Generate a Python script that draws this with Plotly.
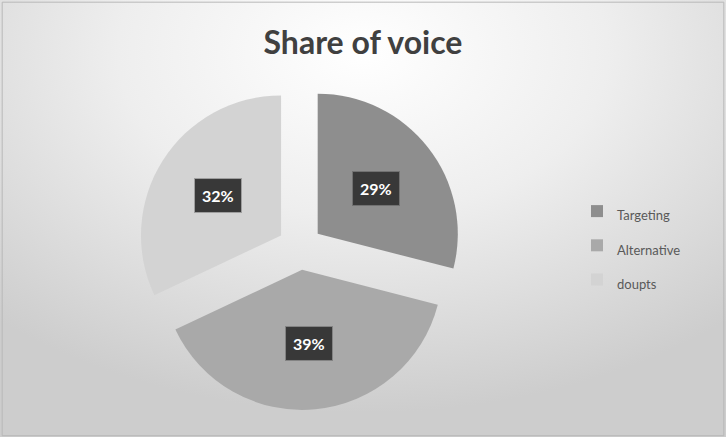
import base64
import math
import plotly.graph_objects as go

# Share-of-voice data
labels = ["Targeting", "Alternative", "doupts"]
values = [29, 39, 32]
colors = ["#8e8e8e", "#a9a9a9", "#d3d3d3"]

W, H = 726, 437
PULL = 0.16

# Pie domain in pixels (square), converted to paper fractions
cx_px, cy_px = 300, 247.5          # centre, measured from top-left
half = 162.5
dom_x = [(cx_px - half) / W, (cx_px + half) / W]
dom_y = [(H - cy_px - half) / H, (H - cy_px + half) / H]

fig = go.Figure()
fig.add_trace(go.Pie(
    labels=[f"<span style='font-size:13px'>{l}</span>" for l in labels],
    values=values,
    sort=False,
    direction="clockwise",
    rotation=0,
    pull=[PULL] * len(values),
    marker=dict(colors=colors, line=dict(width=0)),
    textinfo="none",
    hoverinfo="label+percent",
    domain=dict(x=dom_x, y=dom_y),
))

# Percentage labels in dark boxes, placed at each slice's mid-angle
r = half / (1 + PULL)
total = sum(values)
acc = 0
for v in values:
    mid = (acc + v / 2) / total * 2 * math.pi
    acc += v
    dist = r * (PULL + 0.53)
    x_px = cx_px + dist * math.sin(mid)
    y_px = cy_px - dist * math.cos(mid)
    fig.add_annotation(
        x=x_px / W, y=1 - y_px / H, xref="paper", yref="paper",
        xanchor="center", yanchor="middle",
        text=f"<b>{round(v / total * 100)}%</b>",
        showarrow=False,
        font=dict(family="Lato, sans-serif", size=16, color="white"),
        bgcolor="#383838", borderpad=6,
        bordercolor="rgba(60,60,60,0.35)", borderwidth=2,
    )

# Soft radial background
svg = f"""<svg xmlns='http://www.w3.org/2000/svg' width='{W}' height='{H}'>
<defs><radialGradient id='g' cx='0.5' cy='0.12' r='0.75' gradientTransform='translate(0.5 0.12) scale(1 1.1) translate(-0.5 -0.12)'>
<stop offset='0' stop-color='#ffffff'/><stop offset='0.45' stop-color='#eeeeee'/><stop offset='1' stop-color='#cdcdcd'/>
</radialGradient></defs><rect width='{W}' height='{H}' fill='url(#g)'/></svg>"""
src = "data:image/svg+xml;base64," + base64.b64encode(svg.encode()).decode()
fig.add_layout_image(dict(source=src, xref="paper", yref="paper", x=0, y=1,
                          sizex=1, sizey=1, sizing="stretch", layer="below"))

fig.add_shape(type="rect", xref="paper", yref="paper", x0=0.003, y0=0.003,
              x1=0.997, y1=0.995, line=dict(color="#b8b8b8", width=1))

fig.update_layout(
    width=W, height=H,
    margin=dict(l=0, r=0, t=0, b=0),
    paper_bgcolor="#e4e4e4",
    title=dict(text="<b>Share of voice</b>", x=0.5, xanchor="center",
               y=1 - 43 / H, yanchor="middle",
               font=dict(family="Lato, sans-serif", size=32, color="#404040")),
    legend=dict(x=577 / W, y=1 - 189 / H, xanchor="left", yanchor="top",
                font=dict(family="Lato, sans-serif", size=24, color="#595959"),
                bgcolor="rgba(0,0,0,0)"),
    showlegend=True,
)

fig.write_html("out.html")
